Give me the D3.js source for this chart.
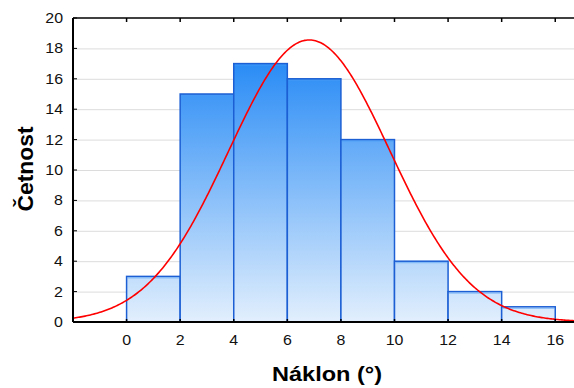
<!DOCTYPE html>
<html><head><meta charset="utf-8">
<script src="https://cdn.jsdelivr.net/npm/d3@7"></script>
<style>body{margin:0;background:#fff}svg{display:block}text{font-family:"Liberation Sans",Arial,sans-serif}</style>
</head><body>
<svg id="c" width="574" height="388"></svg>
<script>
const binStarts = [-2, 0, 2, 4, 6, 8, 10, 12, 14];
const binWidth = 2;
const counts = [0, 3, 15, 17, 16, 12, 4, 2, 1];
const xTicks = [0, 2, 4, 6, 8, 10, 12, 14, 16];
const yTicks = [0, 2, 4, 6, 8, 10, 12, 14, 16, 18, 20];
const fitMean = 6.82, fitSd = 3.01, nObs = 70;

const svg = d3.select("#c");
const L = 73, T = 18, B = 322, R = 574;
const x = d3.scaleLinear().domain([-2, 16.7]).range([L, R]);
const y = d3.scaleLinear().domain([0, 20]).range([B, T]);

const defs = svg.append("defs");
const g = defs.append("linearGradient").attr("id","bg").attr("gradientUnits","userSpaceOnUse")
  .attr("x1",0).attr("x2",0).attr("y1",y(18)).attr("y2",y(0));
g.append("stop").attr("offset",0).attr("stop-color","#1f86f5");
g.append("stop").attr("offset",1).attr("stop-color","#e2effd");

// grid
svg.append("g").selectAll("line").data(yTicks.filter(d=>d>0&&d<20)).join("line")
  .attr("x1",L).attr("x2",R).attr("y1",d=>y(d)+0.5).attr("y2",d=>y(d)+0.5)
  .attr("stroke","#dcdcdc").attr("stroke-width",1);

// bars
const bars = binStarts.map((s,i)=>({s,c:counts[i]}));
svg.append("g").selectAll("rect").data(bars).join("rect")
  .attr("x",d=>x(d.s)).attr("width",d=>x(d.s+binWidth)-x(d.s))
  .attr("y",d=>y(d.c)).attr("height",d=>y(0)-y(d.c))
  .attr("fill","url(#bg)").attr("stroke","#1c5fd4").attr("stroke-width",1.5);
// lighter highlight just under each bar top
svg.append("g").selectAll("line").data(bars.filter(d=>d.c>0)).join("line")
  .attr("x1",d=>x(d.s)+1).attr("x2",d=>x(d.s+binWidth)-1)
  .attr("y1",d=>y(d.c)+1.5).attr("y2",d=>y(d.c)+1.5)
  .attr("stroke","#4a9cf6").attr("stroke-width",1).attr("opacity",0.6);

// normal curve
const pts = d3.range(-2, 16.71, 0.05).map(v=>[v, nObs*binWidth/(fitSd*Math.sqrt(2*Math.PI))*Math.exp(-((v-fitMean)**2)/(2*fitSd*fitSd))]);
svg.append("path").datum(pts).attr("d", d3.line().x(d=>x(d[0])).y(d=>y(d[1])))
  .attr("fill","none").attr("stroke","#ff0000").attr("stroke-width",1.6);

// axes
const ax = svg.append("g").attr("stroke","#000");
ax.append("line").attr("x1",L).attr("x2",L).attr("y1",T).attr("y2",B).attr("stroke-width",2);
ax.append("line").attr("x1",L).attr("x2",R).attr("y1",B).attr("y2",B).attr("stroke-width",2);
ax.append("line").attr("x1",L).attr("x2",R).attr("y1",T).attr("y2",T).attr("stroke-width",1.5);

svg.append("g").selectAll("line").data(yTicks).join("line")
  .attr("x1",L).attr("x2",L+4).attr("y1",d=>y(d)).attr("y2",d=>y(d)).attr("stroke","#000");
svg.append("g").selectAll("line").data(xTicks).join("line")
  .attr("x1",d=>x(d)).attr("x2",d=>x(d)).attr("y1",T).attr("y2",T+4).attr("stroke","#000").attr("stroke-width",1.5);
svg.append("g").selectAll("line").data(xTicks).join("line")
  .attr("x1",d=>x(d)).attr("x2",d=>x(d)).attr("y1",B-3).attr("y2",B+1).attr("stroke","#000").attr("stroke-width",1.5);

svg.append("g").selectAll("text").data(yTicks).join("text")
  .attr("transform",d=>`translate(63,${y(d)+5}) scale(1.1,1)`).attr("text-anchor","end")
  .attr("font-size",14.5).attr("fill","#111").text(d=>d);
svg.append("g").selectAll("text").data(xTicks).join("text")
  .attr("transform",d=>`translate(${x(d)},345) scale(1.1,1)`).attr("text-anchor","middle")
  .attr("font-size",14.5).attr("fill","#111").text(d=>d);

svg.append("text").attr("x",272).attr("y",381)
  .attr("font-size",20).attr("font-weight","bold")
  .attr("textLength",110).attr("lengthAdjust","spacingAndGlyphs").text("Náklon (°)");
svg.append("text").attr("transform","translate(33,211.5) rotate(-90)")
  .attr("font-size",22).attr("font-weight","bold")
  .attr("textLength",85).attr("lengthAdjust","spacingAndGlyphs").text("Četnost");
</script>
</body></html>
